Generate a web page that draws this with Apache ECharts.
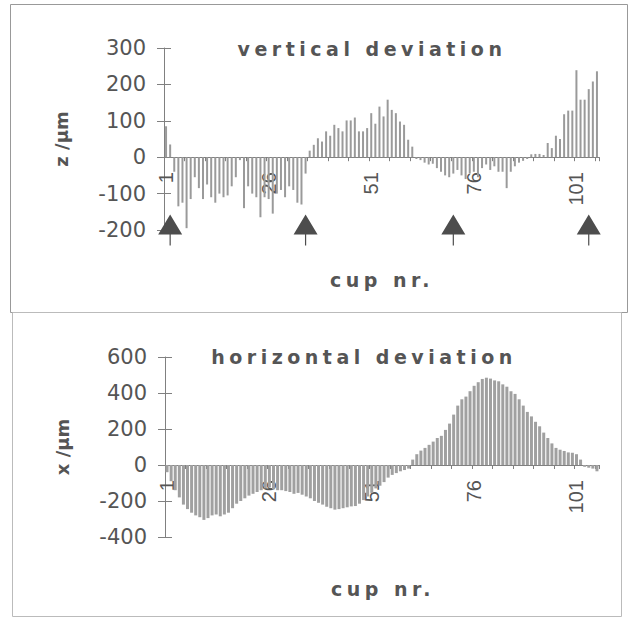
<!DOCTYPE html>
<html>
<head>
<meta charset="utf-8">
<script src="https://cdn.jsdelivr.net/npm/echarts@6/dist/echarts.min.js"></script>
<style>
  html, body { margin: 0; padding: 0; background: #fff; }
  #chart { width: 631px; height: 620px; }
  /* the scanned titles are widely letter-spaced */
  #chart svg text[style*="bold 19px"],
  #chart svg text[font-size="19px"][font-weight="bold"] { letter-spacing: 4.5px; }
</style>
</head>
<body>
<div id="chart"></div>
<script>
// cup numbers 1..106 (category labels)
const cups = [];
for (let i = 1; i <= 106; i++) cups.push(String(i));

// vertical deviation z / um, one bar per cup
const zValues = [
  85, 35, -40, -135, -125, -195, -115, -55, -85, -115,
  -75, -110, -125, -100, -110, -105, -80, -55, -8, -140,
  -80, -100, -110, -165, -110, -115, -155, -100, -90, -110,
  -80, -90, -125, -130, -45, 18, 34, 52, 43, 71,
  59, 89, 80, 71, 101, 101, 109, 71, 71, 80,
  121, 92, 139, 112, 158, 130, 121, 98, 89, 48,
  29, -5, -8, -15, -20, -18, -30, -40, -50, -55,
  -45, -35, -50, -60, -45, -40, -55, -30, -20, -35,
  -25, -40, -40, -85, -40, -25, -15, -10, -5, 8,
  9, 9, 6, 39, 25, 59, 50, 118, 128, 128,
  239, 158, 158, 187, 208, 236
];

// horizontal deviation x / um
const xValues = [
  -40, -90, -140, -180, -220, -245, -265, -280, -290, -305,
  -295, -280, -275, -285, -275, -265, -240, -215, -200, -185,
  -170, -160, -150, -140, -130, -125, -135, -140, -140, -145,
  -150, -160, -155, -165, -175, -185, -200, -210, -220, -232,
  -240, -248, -245, -240, -235, -230, -228, -215, -195, -175,
  -155, -130, -115, -95, -70, -55, -45, -35, -28, -20,
  30, 60, 80, 95, 112, 130, 150, 162, 195, 230,
  280, 330, 365, 380, 410, 440, 460, 478, 485, 480,
  470, 465, 448, 435, 410, 395, 365, 330, 295, 270,
  240, 215, 180, 150, 120, 95, 85, 78, 70, 68,
  60, 30, -10, -15, -20, -35
];

// cups marked with arrows in the vertical plot
const markerCups = ['2', '35', '71', '104'];
const markerLevel = -200;

const zTicks = { min: -200, max: 300, interval: 100 };
const xTicks = { min: -400, max: 600, interval: 200 };

const grey = '#555';
const axisGrey = '#808080';
const titleFont = 'bold 19px "DejaVu Sans"';
const arrowPath = 'path://M0,20 L12,0 L24,20 Z M11.4,20 L12.6,20 L12.6,31 L11.4,31 Z';

const grids = [
  { left: 164, top: 48, right: 32, height: 182 },
  { left: 165, top: 357, right: 32, height: 180 }
];

const chart = echarts.init(document.getElementById('chart'), null, { renderer: 'svg' });

// category axis drawn along the zero line (Excel style), labels hang below it
const makeX = (gridIndex, t) => ({
  type: 'category',
  gridIndex: gridIndex,
  data: cups,
  boundaryGap: true,
  position: 'bottom',
  offset: -grids[gridIndex].height * (0 - t.min) / (t.max - t.min),
  axisLine: { onZero: false, lineStyle: { color: axisGrey, width: 1 } },
  axisTick: { show: true, interval: 4, length: 4, lineStyle: { color: axisGrey } },
  axisLabel: {
    interval: 24, rotate: 90, margin: 15,
    fontFamily: 'Liberation Sans', fontSize: 20, color: grey
  },
  splitLine: { show: false }
});

const makeY = (gridIndex, t, name) => ({
  type: 'value',
  gridIndex: gridIndex,
  min: t.min, max: t.max, interval: t.interval,
  name: name,
  nameLocation: 'middle',
  nameGap: 94,
  nameRotate: 90,
  nameTextStyle: { fontFamily: 'DejaVu Sans', fontWeight: 'bold', fontSize: 18, color: grey },
  axisLine: { show: true, lineStyle: { color: axisGrey, width: 1 } },
  axisTick: { show: true, length: 7, lineStyle: { color: axisGrey } },
  axisLabel: { margin: 18, fontFamily: 'DejaVu Sans', fontSize: 21, color: grey },
  splitLine: { show: false }
});

// second axis only to draw the inner half of the crossing ticks
const makeYInner = (gridIndex, t) => ({
  type: 'value',
  gridIndex: gridIndex,
  min: t.min, max: t.max, interval: t.interval,
  position: 'left',
  axisLine: { show: false },
  axisTick: { show: true, inside: true, length: 7, lineStyle: { color: axisGrey } },
  axisLabel: { show: false },
  splitLine: { show: false }
});

const label = (text, x, y) => ({
  type: 'text',
  style: { text: text, x: x, y: y, textAlign: 'center', textVerticalAlign: 'middle', fill: grey, font: titleFont }
});

const option = {
  backgroundColor: '#fff',
  animation: false,
  grid: grids,
  xAxis: [makeX(0, zTicks), makeX(1, xTicks)],
  yAxis: [
    makeY(0, zTicks, 'z /µm'),
    makeY(1, xTicks, 'x /µm'),
    makeYInner(0, zTicks),
    makeYInner(1, xTicks)
  ],
  graphic: [
    { type: 'rect', z: -1, shape: { x: 10.5, y: 4.5, width: 617, height: 308 },
      style: { fill: 'none', stroke: '#999', lineWidth: 1 } },
    { type: 'rect', z: -1, shape: { x: 12.5, y: 312.5, width: 609, height: 304 },
      style: { fill: 'none', stroke: '#bbb', lineWidth: 1 } },
    label('vertical deviation', 372, 49),
    label('horizontal deviation', 364, 357),
    label('cup nr.', 382, 280),
    label('cup nr.', 383, 589)
  ],
  series: [
    {
      name: 'vertical deviation',
      type: 'bar',
      xAxisIndex: 0, yAxisIndex: 0,
      data: zValues,
      barWidth: 2,
      itemStyle: { color: '#9a9a9a' }
    },
    {
      name: 'markers',
      type: 'scatter',
      xAxisIndex: 0, yAxisIndex: 0,
      data: markerCups.map(c => [c, markerLevel]),
      symbol: arrowPath,
      symbolSize: [24, 31],
      itemStyle: { color: '#4d4d4d', opacity: 1 },
      z: 5
    },
    {
      name: 'horizontal deviation',
      type: 'bar',
      xAxisIndex: 1, yAxisIndex: 1,
      data: xValues,
      barWidth: 3,
      itemStyle: { color: '#a0a0a0' }
    }
  ]
};

chart.setOption(option);
</script>
</body>
</html>
